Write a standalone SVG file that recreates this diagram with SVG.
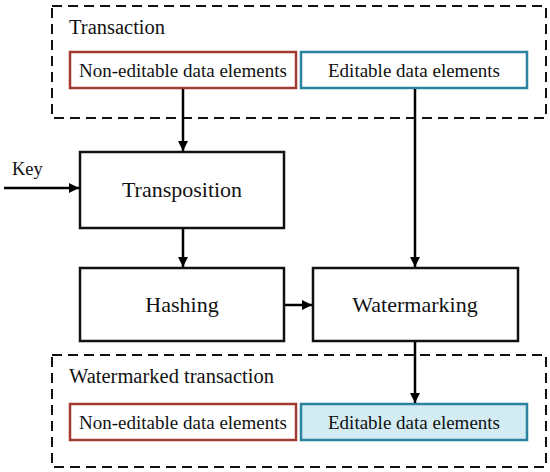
<svg xmlns="http://www.w3.org/2000/svg" width="550" height="472" viewBox="0 0 550 472">
<defs>
<marker id="ah" viewBox="0 0 10 10" refX="10" refY="5" markerWidth="10" markerHeight="10" markerUnits="userSpaceOnUse" orient="auto">
<path d="M0,0 L10,5 L0,10 z" fill="#000"/>
</marker>
<style>
text{font-family:'Liberation Serif','Times New Roman',Times,serif;fill:#111}
.grp{fill:none;stroke:#111;stroke-width:2;stroke-dasharray:10,6}
.box{fill:#fff;stroke:#111;stroke-width:2.5}
.ne{fill:#fff;stroke:#a23a32;stroke-width:2.5}
.ed{fill:#fff;stroke:#2b83a0;stroke-width:2.5}
.edf{fill:#d3ecf3;stroke:#2b83a0;stroke-width:2.5}
.c{fill:none;stroke:#000;stroke-width:2.5;marker-end:url(#ah)}
</style>
</defs>
<g id="transaction">
<rect class="grp" x="52" y="6" width="494" height="112"/>
<text x="69" y="34" font-size="20.5">Transaction</text>
</g>
<g id="ne1">
<rect class="ne" x="70" y="52" width="226" height="36"/>
<text x="183" y="77" font-size="19" text-anchor="middle">Non-editable data elements</text>
</g>
<g id="ed1">
<rect class="ed" x="301" y="52" width="226" height="36"/>
<text x="414" y="77" font-size="19" text-anchor="middle">Editable data elements</text>
</g>
<g id="key">
<text x="12" y="175" font-size="18.5">Key</text>
</g>
<g id="transposition">
<rect class="box" x="80" y="152" width="204" height="76"/>
<text x="182" y="197" font-size="22" text-anchor="middle">Transposition</text>
</g>
<g id="hashing">
<rect class="box" x="80" y="268" width="204" height="73"/>
<text x="182" y="312" font-size="22" text-anchor="middle">Hashing</text>
</g>
<g id="watermarking">
<rect class="box" x="313" y="268" width="205" height="73"/>
<text x="415" y="312" font-size="22" text-anchor="middle">Watermarking</text>
</g>
<g id="watermarked">
<rect class="grp" x="52" y="355" width="494" height="112"/>
<text x="69" y="383" font-size="20.5">Watermarked transaction</text>
</g>
<g id="ne2">
<rect class="ne" x="70" y="404" width="226" height="36"/>
<text x="183" y="429" font-size="19" text-anchor="middle">Non-editable data elements</text>
</g>
<g id="ed2">
<rect class="edf" x="301" y="404" width="226" height="36"/>
<text x="414" y="429" font-size="19" text-anchor="middle">Editable data elements</text>
</g>
<g id="connectors">
<line class="c" x1="183" y1="89" x2="183" y2="151"/>
<line class="c" x1="415" y1="89" x2="415" y2="267"/>
<line class="c" x1="4" y1="188" x2="79" y2="188"/>
<line class="c" x1="183" y1="229" x2="183" y2="267"/>
<line class="c" x1="285" y1="305" x2="312" y2="305"/>
<line class="c" x1="415" y1="342" x2="415" y2="403"/>
</g>
</svg>
